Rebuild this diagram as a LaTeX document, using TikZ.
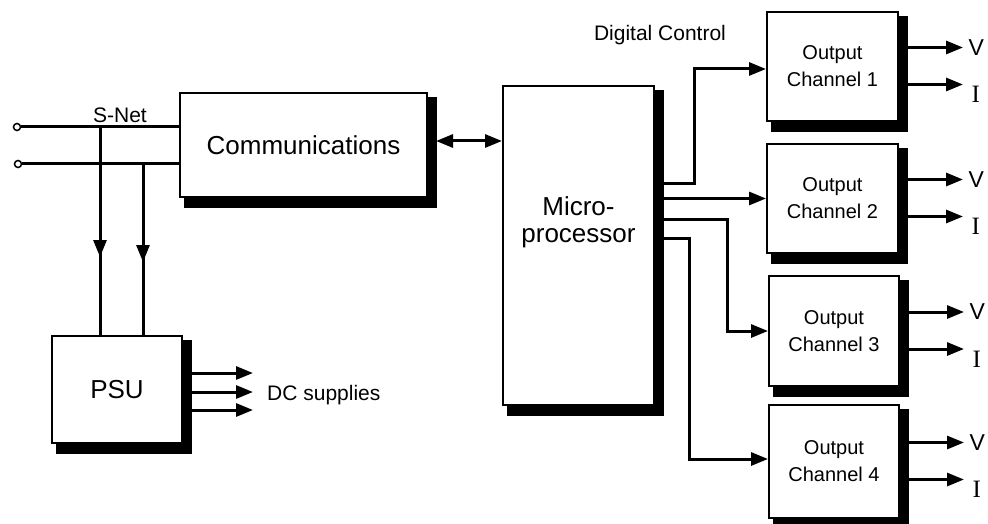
\documentclass[tikz,border=0pt]{standalone}
\usepackage{fontspec}
\setmainfont{Liberation Sans}
\newfontfamily\serifI{Liberation Serif}
\usetikzlibrary{arrows.meta,backgrounds}
\begin{document}
\begin{tikzpicture}[x=1pt,y=-1pt,
  box/.style={draw, line width=2pt, fill=white, inner sep=0pt, align=center},
  bigtxt/.style={font=\fontsize{26}{27}\selectfont},
  chtxt/.style={font=\fontsize{20}{27}\selectfont},
  lab/.style={inner sep=0pt, font=\fontsize{21}{24}\selectfont},
  vlab/.style={inner sep=0pt, anchor=west, font=\fontsize{23}{24}\selectfont},
  ilab/.style={inner sep=0pt, anchor=west, font=\serifI\fontsize{25}{26}\selectfont},
  wire/.style={line width=3pt},
  arr/.style={wire, -{Triangle[length=17pt,width=13pt]}},
  dbl/.style={wire, {Triangle[length=17pt,width=13pt]}-{Triangle[length=17pt,width=13pt]}},
  term/.style={circle, draw, line width=1.5pt, minimum size=7pt, inner sep=0pt, fill=white}
]
\useasboundingbox (0,0) rectangle (988,524);

% boxes
\node[box, bigtxt, minimum width=247pt, minimum height=104pt] (comm) at (303.5,145) {};
\node[bigtxt, inner sep=0pt] (commt) at (303.5,145) {Communications};
\node[box, minimum width=151pt, minimum height=319pt] (micro) at (578.5,245.5) {};
\node[bigtxt, align=center, inner sep=0pt] (microt) at (578.5,222) {Micro-\\processor};
\node[box, chtxt, minimum width=131pt, minimum height=109pt] (ch1) at (832.5,66.5) {Output\\Channel 1};
\node[box, chtxt, minimum width=131pt, minimum height=109pt] (ch2) at (832.5,198.5) {Output\\Channel 2};
\node[box, chtxt, minimum width=130pt, minimum height=110pt] (ch3) at (834,331) {Output\\Channel 3};
\node[box, chtxt, minimum width=130pt, minimum height=113pt] (ch4) at (834,461.5) {Output\\Channel 4};
\node[box, bigtxt, minimum width=130pt, minimum height=107pt] (psu) at (117,389.5) {PSU};

% shadows
\begin{scope}[on background layer]
\foreach \n in {comm,micro,ch1,ch2,ch3,ch4,psu}
  \fill ([xshift=5pt,yshift=-5pt]\n.north west) rectangle ([xshift=9pt,yshift=-10pt]\n.south east);
\end{scope}

% S-Net
\node[term] (t1) at (17,127) {};
\node[term] (t2) at (18,164) {};
\draw[wire] (t1) -- (comm.west |- t1);
\draw[wire] (t2) -- (comm.west |- t2);
\node[lab] (snet) at (120,115) {S-Net};
\coordinate (j1) at (100,127);
\coordinate (j2) at (143,164);
\draw[wire] (j1) -- (j1 |- psu.north);
\draw[wire] (j2) -- (j2 |- psu.north);
\draw[arr] (j1) -- ++(0,130);
\draw[arr] (j2) -- ++(0,98);

% PSU outputs
\foreach \dy in {16.5,-2.5,-20.5}
  \draw[arr] ([yshift=\dy pt]psu.east) -- ++(70,0);
\node[lab, anchor=west] (dc) at (267,395) {DC supplies};

% comm <-> micro
\draw[dbl] ([xshift=8pt,yshift=4pt]comm.east) -- ([yshift=4pt]comm.east -| micro.west);

% digital control
\node[lab] (dctl) at (660,35) {Digital Control};
\draw[arr] ([yshift=62.5pt]micro.east) -| ([xshift=-72pt,yshift=-2.5pt]ch1.west) -- ([yshift=-2.5pt]ch1.west);
\draw[arr] (micro.east |- ch2.west) -- (ch2.west);
\draw[arr] ([yshift=26.5pt]micro.east) -| ([xshift=-41pt]ch3.west) -- (ch3.west);
\draw[arr] ([yshift=7.5pt]micro.east) -| ([xshift=-79pt,yshift=2.5pt]ch4.west) -- ([yshift=2.5pt]ch4.west);

% outputs V / I
\foreach \n in {ch1,ch2,ch3,ch4} {
  \draw[arr] ([yshift=19pt]\n.east) -- ++(64,0) node[vlab, xshift=4pt] {V};
  \draw[arr] ([yshift=-18pt]\n.east) -- ++(64,0) node[ilab, xshift=7pt, yshift=-10pt] {I};
}
\end{tikzpicture}
\end{document}
